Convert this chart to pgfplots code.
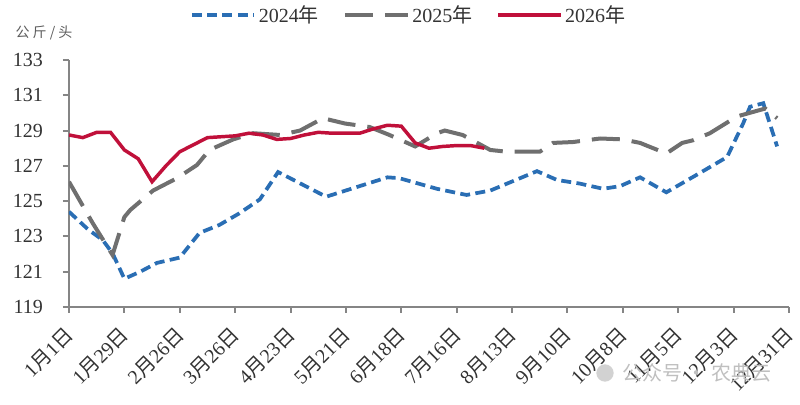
\documentclass[border=0pt]{standalone}
\usepackage{fontspec}
\setmainfont{Liberation Serif}
\newfontfamily\cjk{Noto Sans CJK SC}
\usepackage{pgfplots}
\pgfplotsset{compat=1.18}
\usepackage{pgfplotstable}
\definecolor{cBlue}{HTML}{2A6EB4}
\definecolor{cGray}{HTML}{6F6F6F}
\definecolor{cRed}{HTML}{C0103A}
\definecolor{cAxis}{HTML}{858585}
\definecolor{cText}{HTML}{333333}
\newcommand\md[2]{#1{\cjk 月}#2{\cjk 日}}
\pgfplotsset{legend image code/.code={\draw[#1] (0pt,0pt) -- (47pt,0pt);}}

\pgfplotstableread{
d v
0 124.4
9.6 123.4
17 122.8
22 122.05
28 120.6
36 121.0
44.5 121.5
56 121.8
66 123.2
76 123.65
86 124.3
96.5 125.1
105.7 126.65
130 125.25
161 126.35
167 126.3
186 125.7
201 125.35
213 125.6
236.6 126.7
246.7 126.2
258 126.0
270 125.7
278.6 125.85
288.7 126.35
302 125.5
319 126.6
332.7 127.5
340.8 129.4
344.3 130.35
351 130.55
358 128.1
}\tabA

\pgfplotstableread{
d v
0 126.1
12 123.75
22 121.95
28 124.1
31 124.5
42.5 125.6
54.6 126.3
64.7 127.05
71 127.9
83 128.5
93 128.85
106.7 128.75
116.8 129.0
128.4 129.7
139.5 129.4
152 129.2
162 128.75
175 128.1
186 128.85
190 129.0
199 128.75
213 127.9
221.4 127.8
238 127.8
244.7 128.3
254.8 128.35
268.5 128.55
280 128.5
288.7 128.3
302 127.7
310 128.3
315.5 128.45
324 128.85
337.7 129.8
352 130.25
358 129.7
}\tabB

\pgfplotstableread{
d v
0 128.75
7 128.6
14 128.9
21 128.9
28 127.9
35 127.4
42 126.1
49 127.0
56 127.8
63 128.2
70 128.6
77 128.65
84 128.7
91 128.85
98 128.75
105 128.5
112 128.55
119 128.75
126 128.9
133 128.85
140 128.85
147 128.85
154 129.1
161 129.3
168 129.25
175 128.3
182 128.0
189 128.1
196 128.15
203 128.15
210 128.0
}\tabC

\begin{document}
\begin{tikzpicture}
\begin{axis}[
  scale only axis,
  width=540pt, height=185.25pt,
  xmin=0, xmax=364, ymin=119, ymax=133,
  axis lines*=left,
  axis line style={cAxis, line width=1.5pt},
  tick style={cAxis, line width=1.5pt},
  tick align=outside,
  major tick length=4.5pt,
  xtick={0,28,...,364},
  xticklabels={\md{1}{1},\md{1}{29},\md{2}{26},\md{3}{26},\md{4}{23},\md{5}{21},\md{6}{18},\md{7}{16},\md{8}{13},\md{9}{10},\md{10}{8},\md{11}{5},\md{12}{3},\md{12}{31}},
  ytick={119,121,...,133},
  /pgf/number format/assume math mode=true,
  ticklabel style={text=cText, font=\fontsize{15}{15}\selectfont},
  yticklabel style={xshift=-11.5pt},
  xticklabel style={xshift=3pt, yshift=-11pt, rotate=45, anchor=east, font=\fontsize{15}{15}\selectfont},
  legend columns=3,
  legend style={draw=none, fill=none, at={(0.472,1)}, anchor=center, yshift=33.75pt,
    font=\fontsize{15}{15}\selectfont, text=cText,
    /tikz/every even column/.append style={column sep=16pt}},
]
\addplot[cBlue, line width=2.8pt, dash pattern=on 7.5pt off 4pt] table[x=d,y=v] {\tabA};
\addlegendentry{2024{\cjk 年}}
\addplot[cGray, line width=3pt, dash pattern=on 21pt off 9pt] table[x=d,y=v] {\tabB};
\addlegendentry{2025{\cjk 年}}
\addplot[cRed, line width=2.6pt] table[x=d,y=v] {\tabC};
\addlegendentry{2026{\cjk 年}}
\end{axis}
\node[text=cText!80, font=\cjk\fontsize{10.5}{10.5}\selectfont] at ([xshift=-18.75pt,yshift=20.25pt]current axis.north west) {公 斤 / 头};
\fill[gray!35] ([xshift=402pt,yshift=-49.5pt]current axis.south west) circle (6.5pt);
\node[text=gray!50, font=\cjk\fontsize{15}{15}\selectfont] at ([xshift=471pt,yshift=-49.5pt]current axis.south west) {公众号 · 农典云};
\pgfresetboundingbox
\path ([shift={(-51.75pt,-73.5pt)}]current axis.south west) rectangle ([shift={(8.25pt,45pt)}]current axis.north east);
\end{tikzpicture}
\end{document}
